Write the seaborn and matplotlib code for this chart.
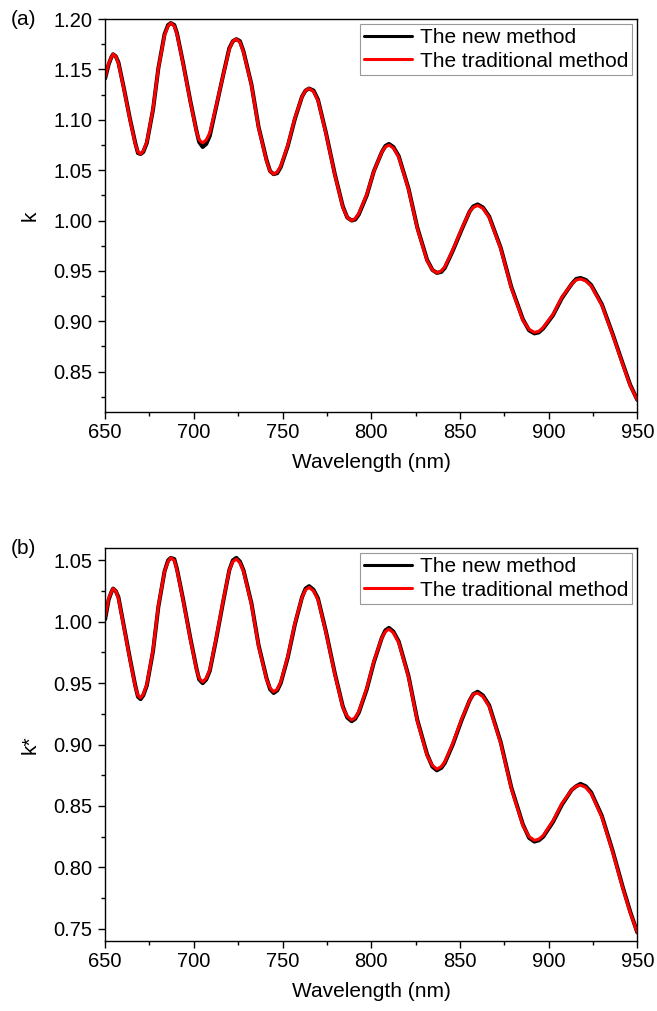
import matplotlib
matplotlib.use("Agg")
import matplotlib.pyplot as plt
import seaborn as sns
from matplotlib.ticker import MultipleLocator, FormatStrFormatter

# --- DATA ---
wavelength = [650, 652, 653.5, 654.5,
              656, 657.5, 660.5, 664, 667, 668.5, 670,
              671.5, 673.5, 677, 680, 683.5, 685.5, 687,
              689, 690.5, 694, 698, 701.5, 703, 705,
              707, 709, 712.5, 716.5, 720, 722, 724,
              726, 728, 732.5, 736.5, 741, 743, 745,
              747, 749, 753, 757, 761, 763, 765,
              767.5, 770, 774.5, 779.5, 784, 786.5, 789,
              791, 793, 797.5, 801.5, 806, 808, 810,
              812.5, 815.5, 821, 826, 831.5, 834.5, 837,
              839.5, 841.5, 846, 851, 855.5, 857.5, 860,
              863, 866.5, 873, 879, 885.5, 889, 892,
              894.5, 897, 902.5, 907.5, 913, 915.5, 918,
              921, 924, 930, 936, 942, 946, 950]

k_new = [1.141, 1.155, 1.162, 1.165,
         1.163, 1.157, 1.132, 1.101, 1.077, 1.067, 1.066,
         1.068, 1.077, 1.110, 1.151, 1.185, 1.194, 1.196,
         1.194, 1.186, 1.156, 1.119, 1.089, 1.078, 1.073,
         1.076, 1.084, 1.112, 1.144, 1.171, 1.178, 1.180,
         1.178, 1.168, 1.135, 1.093, 1.060, 1.049, 1.046,
         1.047, 1.053, 1.074, 1.101, 1.123, 1.129, 1.131,
         1.129, 1.120, 1.087, 1.046, 1.014, 1.003, 1.000,
         1.001, 1.006, 1.025, 1.049, 1.068, 1.074, 1.076,
         1.073, 1.064, 1.032, 0.993, 0.961, 0.951, 0.948,
         0.949, 0.953, 0.970, 0.991, 1.009, 1.014, 1.016,
         1.013, 1.004, 0.973, 0.934, 0.902, 0.891, 0.888,
         0.889, 0.893, 0.906, 0.923, 0.937, 0.942, 0.943,
         0.941, 0.936, 0.917, 0.888, 0.857, 0.837, 0.822]

k_trad = [1.142, 1.156, 1.162, 1.165,
          1.163, 1.156, 1.131, 1.100, 1.076, 1.068, 1.066,
          1.069, 1.078, 1.111, 1.151, 1.184, 1.193, 1.196,
          1.193, 1.185, 1.155, 1.118, 1.088, 1.080, 1.077,
          1.080, 1.087, 1.113, 1.144, 1.170, 1.178, 1.180,
          1.177, 1.167, 1.134, 1.092, 1.059, 1.049, 1.046,
          1.048, 1.054, 1.075, 1.102, 1.123, 1.129, 1.131,
          1.128, 1.119, 1.086, 1.045, 1.013, 1.003, 1.000,
          1.002, 1.007, 1.026, 1.049, 1.068, 1.073, 1.075,
          1.072, 1.063, 1.031, 0.992, 0.960, 0.951, 0.948,
          0.950, 0.954, 0.971, 0.992, 1.009, 1.013, 1.015,
          1.012, 1.003, 0.972, 0.933, 0.901, 0.892, 0.889,
          0.890, 0.894, 0.907, 0.924, 0.937, 0.941, 0.942,
          0.940, 0.935, 0.916, 0.887, 0.856, 0.836, 0.822]

kstar_new = [1.002, 1.018, 1.024, 1.027,
             1.025, 1.020, 0.997, 0.970, 0.948, 0.939, 0.937,
             0.940, 0.948, 0.976, 1.012, 1.041, 1.050, 1.052,
             1.051, 1.043, 1.018, 0.987, 0.962, 0.953, 0.950,
             0.953, 0.960, 0.985, 1.016, 1.042, 1.050, 1.052,
             1.049, 1.042, 1.015, 0.981, 0.954, 0.945, 0.942,
             0.944, 0.950, 0.971, 0.998, 1.020, 1.027, 1.029,
             1.026, 1.019, 0.992, 0.958, 0.931, 0.922, 0.919,
             0.921, 0.926, 0.945, 0.967, 0.987, 0.993, 0.995,
             0.992, 0.984, 0.956, 0.920, 0.892, 0.882, 0.879,
             0.881, 0.885, 0.900, 0.920, 0.936, 0.941, 0.943,
             0.940, 0.932, 0.902, 0.865, 0.835, 0.824, 0.821,
             0.822, 0.825, 0.837, 0.851, 0.863, 0.866, 0.868,
             0.866, 0.861, 0.842, 0.814, 0.783, 0.764, 0.747]

kstar_trad = [1.004, 1.019, 1.024, 1.027,
              1.025, 1.019, 0.996, 0.969, 0.947, 0.940, 0.938,
              0.941, 0.949, 0.977, 1.013, 1.041, 1.049, 1.052,
              1.050, 1.042, 1.017, 0.986, 0.961, 0.954, 0.951,
              0.954, 0.961, 0.986, 1.017, 1.042, 1.049, 1.051,
              1.048, 1.041, 1.014, 0.980, 0.953, 0.946, 0.943,
              0.945, 0.951, 0.972, 0.999, 1.020, 1.026, 1.028,
              1.025, 1.018, 0.991, 0.957, 0.930, 0.923, 0.920,
              0.922, 0.927, 0.946, 0.968, 0.987, 0.992, 0.994,
              0.991, 0.983, 0.955, 0.919, 0.891, 0.883, 0.880,
              0.882, 0.886, 0.901, 0.921, 0.936, 0.941, 0.942,
              0.939, 0.931, 0.901, 0.864, 0.834, 0.825, 0.822,
              0.823, 0.826, 0.838, 0.852, 0.863, 0.866, 0.867,
              0.865, 0.860, 0.841, 0.813, 0.782, 0.763, 0.747]

x_ticks = [650, 700, 750, 800, 850, 900, 950]

PANELS = [
    {"tag": "(a)", "ylabel": "k", "new": k_new, "trad": k_trad,
     "ylim": (0.81, 1.20), "yticks": [0.85, 0.90, 0.95, 1.00, 1.05, 1.10, 1.15, 1.20]},
    {"tag": "(b)", "ylabel": "k*", "new": kstar_new, "trad": kstar_trad,
     "ylim": (0.74, 1.06), "yticks": [0.75, 0.80, 0.85, 0.90, 0.95, 1.00, 1.05]},
]

# --- STYLE ---
sns.set_style("ticks")
plt.rcParams['font.family'] = ['Liberation Sans', 'DejaVu Sans']
plt.rcParams.update({"text.color": "black", "axes.labelcolor": "black",
                     "xtick.color": "black", "ytick.color": "black"})
TICK_FS = 14.5
LABEL_FS = 15

fig = plt.figure(figsize=(6.57, 10.11), dpi=100)
axes_rects = [[0.160, 0.5925, 0.810, 0.3887],
              [0.160, 0.0692, 0.810, 0.3887]]

for rect, panel in zip(axes_rects, PANELS):
    ax = fig.add_axes(rect)
    sns.lineplot(x=wavelength, y=panel["new"], ax=ax, color="black", linewidth=2.9,
                 label="The new method")
    sns.lineplot(x=wavelength, y=panel["trad"], ax=ax, color="red", linewidth=2.2,
                 label="The traditional method")

    ax.set_xlim(650, 950)
    ax.set_ylim(*panel["ylim"])
    ax.set_xticks(x_ticks)
    ax.set_yticks(panel["yticks"])
    ax.yaxis.set_major_formatter(FormatStrFormatter('%.2f'))
    ax.xaxis.set_minor_locator(MultipleLocator(25))
    ax.yaxis.set_minor_locator(MultipleLocator(0.025))
    ax.tick_params(which="major", direction="out", length=5, width=1, labelsize=TICK_FS,
                   colors="black")
    ax.tick_params(axis="x", which="major", pad=3)
    ax.tick_params(axis="y", which="major", pad=4)
    ax.tick_params(which="minor", direction="out", length=3, width=1, colors="black")
    for side in ax.spines.values():
        side.set_linewidth(1.0)
        side.set_color("black")

    ax.set_xlabel("Wavelength (nm)", fontsize=LABEL_FS, labelpad=8, color="black")
    ax.set_ylabel(panel["ylabel"], fontsize=LABEL_FS, labelpad=10, color="black")

    leg = ax.legend(loc="upper right", fontsize=LABEL_FS, frameon=True, fancybox=False,
                    borderaxespad=0.25, handlelength=2.3, handletextpad=0.35,
                    labelspacing=0.2, borderpad=0.2)
    leg.get_frame().set_edgecolor("#808080")
    leg.get_frame().set_linewidth(0.8)
    for text in leg.get_texts():
        text.set_color("black")
    for line in leg.get_lines():
        line.set_linewidth(2.2)

    # panel tag, to the left of the top tick label
    ax.text(-0.178, 1.0, panel["tag"], transform=ax.transAxes, fontsize=LABEL_FS,
            ha="left", va="center", color="black")

fig.savefig("out.png", dpi=100)
